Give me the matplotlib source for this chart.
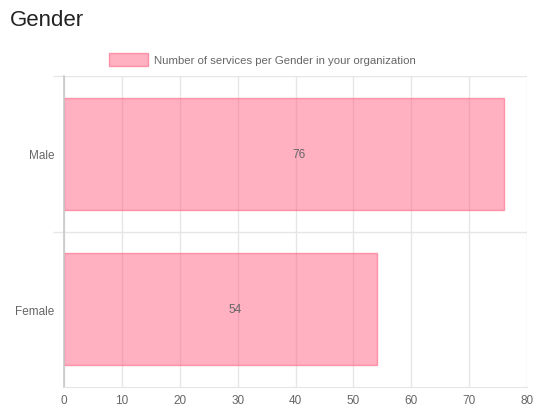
import matplotlib.pyplot as plt

categories = ['Male', 'Female']
values = [76, 54]
x_ticks = [0, 10, 20, 30, 40, 50, 60, 70, 80]
legend_label = 'Number of services per Gender in your organization'
title = 'Gender'

plt.rcParams['font.family'] = ['Liberation Sans', 'DejaVu Sans']

fill = (1.0, 99 / 255, 132 / 255, 0.5)
edge = (1.0, 99 / 255, 132 / 255, 0.6)
grid_col = '#e6e6e6'
text_col = '#666666'

fig = plt.figure(figsize=(5.33, 4.06), dpi=100)
ax = fig.add_axes([64 / 533, 1 - 388 / 406, 463 / 533, 311 / 406])

pos = list(range(len(categories)))[::-1]
ax.barh(pos, values, height=0.72, color=fill, edgecolor=edge, linewidth=1, zorder=2)

for p, v in zip(pos, values):
    ax.annotate(str(v), xy=(v / 2, p), xytext=(6, 0), textcoords='offset points',
                ha='left', va='center', fontsize=8.5, color=text_col, zorder=3)

ax.set_xlim(0, 80)
ax.set_ylim(-0.5, len(categories) - 0.5)
ax.set_xticks(x_ticks)
ax.set_yticks(pos)
ax.set_yticklabels(categories)
ax.set_yticks([0.5, 1.5], minor=True)

ax.tick_params(axis='y', which='major', length=0, pad=7, labelsize=8.5, labelcolor=text_col)
ax.tick_params(axis='y', which='minor', length=8, color=grid_col, width=1)
ax.tick_params(axis='x', length=0, pad=5, labelsize=8.5, labelcolor=text_col)

ax.grid(axis='x', which='major', color=grid_col, linewidth=1, zorder=0)
ax.grid(axis='y', which='minor', color=grid_col, linewidth=1, zorder=0)
ax.set_axisbelow(True)

for s in ['top', 'right']:
    ax.spines[s].set_visible(False)
ax.spines['bottom'].set_color(grid_col)
ax.spines['left'].set_color('#c8c8c8')
ax.spines['left'].set_linewidth(1.2)

fig.text(10 / 533, 1 - 20 / 406, title, fontsize=16, color='#222222', ha='left', va='center')

# legend swatch and label
fig.patches.append(plt.Rectangle((109 / 533, 1 - 67 / 406), 39 / 533, 13 / 406,
                                 transform=fig.transFigure, facecolor=fill,
                                 edgecolor=edge, linewidth=1))
fig.text(154 / 533, 1 - 61 / 406, legend_label, fontsize=8.2, color=text_col,
         ha='left', va='center')

fig.savefig('out.png', dpi=100)
